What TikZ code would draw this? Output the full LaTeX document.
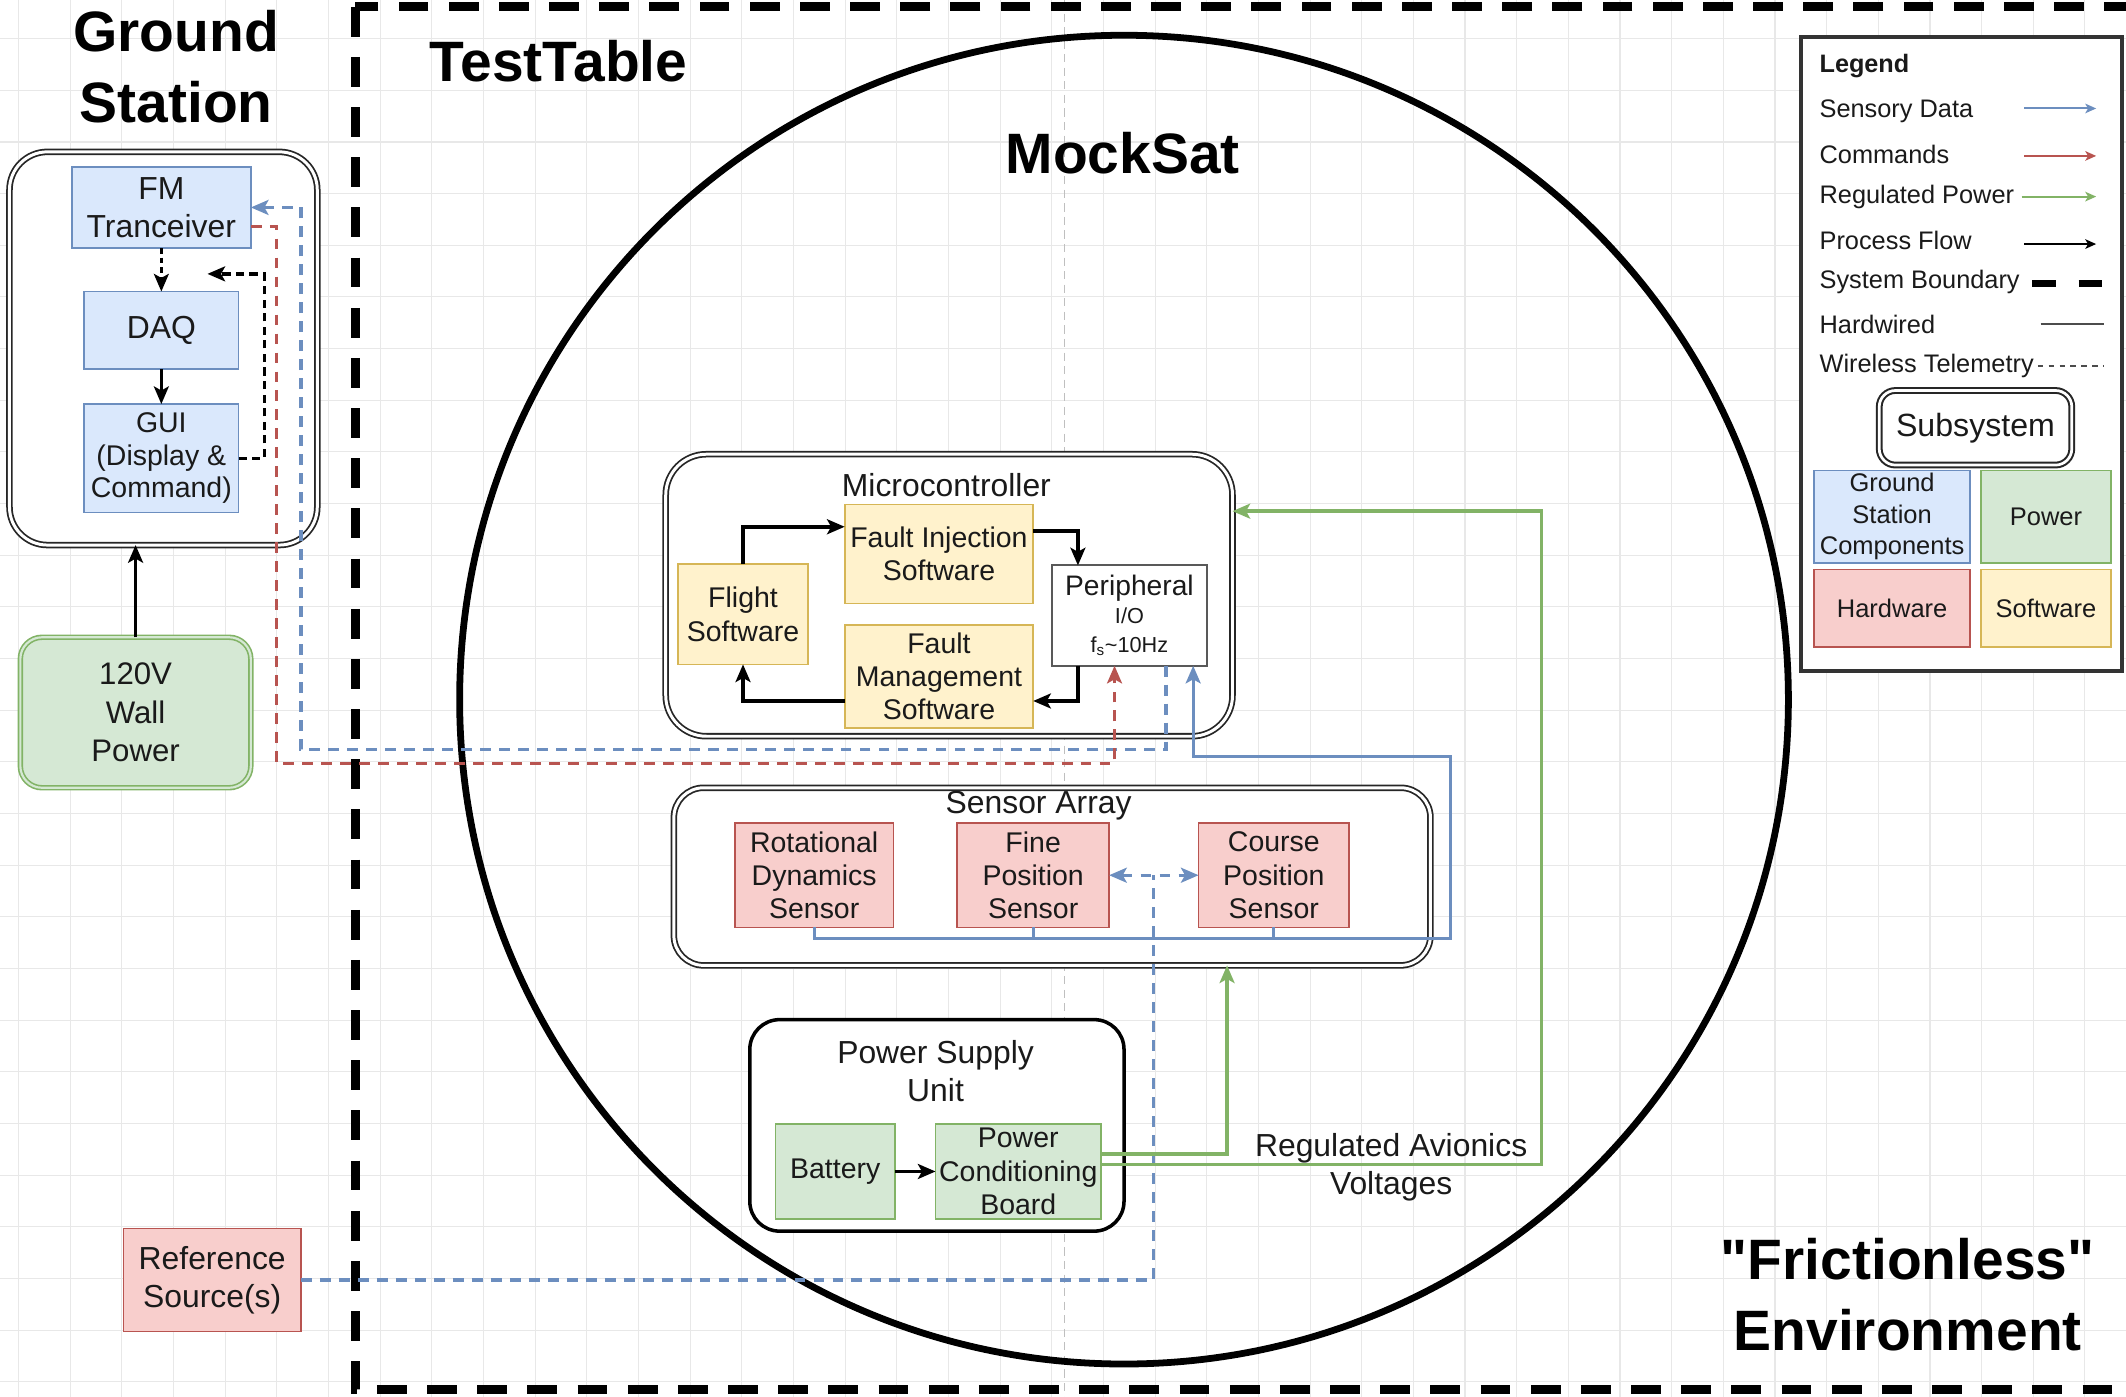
\documentclass[tikz,border=0pt]{standalone}
\usepackage{fontspec}
\setmainfont{Liberation Sans}[Ligatures=TeXOff]
\usetikzlibrary{arrows.meta,calc}
\definecolor{bfill}{HTML}{DAE8FC}
\definecolor{bline}{HTML}{6C8EBF}
\definecolor{gfill}{HTML}{D5E8D4}
\definecolor{gline}{HTML}{82B366}
\definecolor{rfill}{HTML}{F8CECC}
\definecolor{rline}{HTML}{B85450}
\definecolor{yfill}{HTML}{FFF2CC}
\definecolor{yline}{HTML}{D6B656}
\definecolor{gridc}{HTML}{E8E8E8}
\definecolor{txt}{HTML}{1A1A1A}
\newcommand{\fsz}[2]{\fontsize{#1}{#2}\selectfont}
\tikzset{
  every node/.style={text=txt, inner sep=0pt, outer sep=0pt},
  cell/.style={draw, line width=1.2, align=center, font=\fsz{21}{24.5}},
  bluebox/.style={cell, fill=bfill, draw=bline},
  greenbox/.style={cell, fill=gfill, draw=gline},
  redbox/.style={cell, fill=rfill, draw=rline},
  yelbox/.style={cell, fill=yfill, draw=yline},
  cont/.style={draw=black!85, line width=1.3, double=white, double distance=2.2, fill=white},
  title/.style={font=\bfseries\fsz{42}{52}, align=center, text=black},
  lbl/.style={font=\fsz{23.5}{28}, align=center},
  legt/.style={font=\fsz{18.7}{23}, anchor=west},
  arr/.style={-{Stealth[length=13,width=11,inset=3]}},
  sarr/.style={-{Stealth[length=8,width=7,inset=2]}},
  pf/.style={line width=2.6, draw=black, arr},
  bd/.style={draw=bline, line width=2.4, dash pattern=on 8 off 6},
  rd/.style={draw=rline, line width=2.4, dash pattern=on 8 off 6},
  bs/.style={draw=bline, line width=2.4},
  gl/.style={draw=gline, line width=2.6},
}
\begin{document}
\begin{tikzpicture}[x=1pt,y=-1pt]
\useasboundingbox (0,0) rectangle (1568,1030);
\fill[white] (0,0) rectangle (1568,1030);
% grid
\foreach \i in {0,...,41} \draw[gridc, line width=0.8] ({13.7+\i*38.1},0) -- ({13.7+\i*38.1},1030);
\foreach \i in {0,...,27} \draw[gridc, line width=0.8] (0,{28.5+\i*38.1}) -- (1568,{28.5+\i*38.1});
% guide line
\draw[black!25, line width=0.7, dash pattern=on 6 off 4] (785,0) -- (785,1030);
% system boundary
\draw[line width=6.5, dash pattern=on 22 off 15] (262,5) rectangle (1600,1025);
% MockSat circle
\node[circle, draw, line width=5, minimum size=980] (sat) at (829,516) {};

% titles
\node[title] (gstitle) at (130,49) {Ground\\Station};
\node[title] (tttitle) at (412,45) {TestTable};
\node[title] (mstitle) at (828,113) {MockSat};
\node[title] (envtitle) at (1407,955) {"Frictionless"\\Environment};

% Ground station
\node[cont, rounded corners=28, minimum width=227, minimum height=290] (gs) at (120.5,257) {};
\node[bluebox, font=\fsz{23.5}{28}, minimum width=132, minimum height=60] (fm) at (119,153) {FM\\Tranceiver};
\node[bluebox, font=\fsz{23.5}{28}, minimum width=114, minimum height=57] (daq) at (119,243.5) {DAQ};
\node[bluebox, font=\fsz{21}{24}, minimum width=114, minimum height=80] (gui) at (119,338) {GUI\\(Display \&\\Command)};
\node[greenbox, draw=gline, line width=1.2, double=gfill, double distance=1.6, rounded corners=16, font=\fsz{23}{28.5}, minimum width=170, minimum height=111] (wall) at (100,525.5) {120V\\Wall\\Power};
\node[redbox, font=\fsz{23.5}{28}, minimum width=131, minimum height=76] (ref) at (156.5,944) {Reference\\Source(s)};

% Microcontroller
\node[cont, rounded corners=30, minimum width=418, minimum height=208] (mc) at (700,439) {};
\node[lbl] (mclabel) at (698,358) {Microcontroller};
\node[yelbox, minimum width=96, minimum height=74] (flight) at (548,453) {Flight\\Software};
\node[yelbox, minimum width=139, minimum height=73] (fi) at (692.5,408.5) {Fault Injection\\Software};
\node[yelbox, minimum width=139, minimum height=76] (fmg) at (692.5,499) {Fault\\Management\\Software};
\node[cell, draw=black!65, fill=white, line width=1.5, minimum width=114, minimum height=74, font=\fsz{16}{21}] (periph) at (833,454) {{\fsz{20.8}{21}Peripheral}\\I/O\\f\textsubscript{s}\textasciitilde{}10Hz};

% Sensor array
\node[cont, rounded corners=22, minimum width=558, minimum height=131] (sa) at (776,646.5) {};
\node[lbl] (salabel) at (766,594) {Sensor Array};
\node[redbox, minimum width=117, minimum height=77] (rot) at (600.5,645.5) {Rotational\\Dynamics\\Sensor};
\node[redbox, minimum width=112, minimum height=77] (fine) at (762,645.5) {Fine\\Position\\Sensor};
\node[redbox, minimum width=111, minimum height=77] (course) at (939.5,645.5) {Course\\Position\\Sensor};

% Power supply unit
\node[draw=black, line width=2.6, fill=white, rounded corners=22, minimum width=276, minimum height=156] (psu) at (691,830) {};
\node[lbl] (psulabel) at (690,790) {Power Supply\\Unit};
\node[greenbox, minimum width=88, minimum height=70] (bat) at (616,864) {Battery};
\node[greenbox, minimum width=122, minimum height=70] (pcb) at (751,864) {Power\\Conditioning\\Board};
\node[lbl] (ravlabel) at (1026,861) {Regulated Avionics\\Voltages};

% --- connectors: ground station
\draw[pf, line width=2.2, dash pattern=on 4 off 3] (fm.south) -- (daq.north);
\draw[pf, line width=2.2] (daq.south) -- (gui.north);
\coordinate (gsret) at (153,202);
\draw[pf, line width=2.4, dash pattern=on 6 off 4] (gui.east) -| (195,202) -- (gsret);
\draw[pf] (wall.north) -- (wall.north |- gs.south);

% telemetry
\draw[bd, arr] ($(periph.south)+(27,0)$) |- (222,553) |- (fm.east);
\draw[rd, arr] ($(fm.east)+(0,14)$) -| (204,563) -| ($(periph.south)+(-11,0)$);

% microcontroller process flow
\draw[pf] (flight.north) |- ($(fi.west)+(0,-20)$);
\draw[pf] ($(fi.east)+(0,-17)$) -| ($(periph.north west)+(19,0)$);
\draw[pf] ($(periph.south west)+(19,0)$) |- ($(fmg.east)+(0,18)$);
\draw[pf] ($(fmg.west)+(0,18)$) -| (flight.south);

% sensors
\draw[bs, arr] (rot.south) |- (1070,692) -- (1070,558) -| ($(periph.south)+(47,0)$);
\draw[bs] (fine.south) -- (fine.south |- 0,692);
\draw[bs] (course.south) -- (course.south |- 0,692);
\draw[bd] (ref.east) -| (851,0 |- fine.east);
\draw[bd, {Stealth[length=13,width=11,inset=3]}-{Stealth[length=13,width=11,inset=3]}] (fine.east) -- (course.west);

% power
\draw[pf] (bat.east) -- (pcb.west);
\draw[gl, arr] ($(pcb.east)+(0,-13)$) -| (905,0 |- sa.south);
\draw[gl, arr] ($(pcb.east)+(0,-5)$) -| (1137,377) -- (mc.east |- 0,377);

% legend
\node[draw=black!80, line width=3, fill=white, minimum width=237, minimum height=468] (leg) at (1446.5,261) {};
\node[legt, font=\bfseries\fsz{18.6}{23}] (lt0) at (1342,49) {Legend};
\node[legt] (lt1) at (1342,82) {Sensory Data};
\node[legt] (lt2) at (1342,114) {Commands};
\node[legt] (lt3) at (1342,145) {Regulated Power};
\node[legt] (lt4) at (1342,177) {Process Flow};
\node[legt] (lt5) at (1342,208) {System Boundary};
\node[legt] (lt6) at (1342,239) {Hardwired};
\node[legt] (lt7) at (1342,270) {Wireless Telemetry};
\coordinate (la1) at (1493,80); \coordinate (lb1) at (1546,80);
\coordinate (la2) at (1493,115); \coordinate (lb2) at (1546,115);
\coordinate (la3) at (1491,145); \coordinate (lb3) at (1546,145);
\coordinate (la4) at (1493,180); \coordinate (lb4) at (1546,180);
\coordinate (la5) at (1499,209); \coordinate (lb5) at (1551,209);
\coordinate (la6) at (1505,239); \coordinate (lb6) at (1552,239);
\coordinate (la7) at (1503,270); \coordinate (lb7) at (1552,270);
\draw[bline, line width=1.5, sarr] (la1) -- (lb1);
\draw[rline, line width=1.5, sarr] (la2) -- (lb2);
\draw[gline, line width=1.5, sarr] (la3) -- (lb3);
\draw[black, line width=1.5, sarr] (la4) -- (lb4);
\draw[black, line width=5, dash pattern=on 17 off 17] (la5) -- (lb5);
\draw[black!70, line width=1.5] (la6) -- (lb6);
\draw[black!70, line width=1.3, dash pattern=on 4 off 4] (la7) -- (lb7);
\node[cont, draw=black!85, line width=1.5, double distance=2, rounded corners=12, minimum width=142, minimum height=55, font=\fsz{23.7}{28}] (lsub) at (1457,315.5) {Subsystem};
\node[bluebox, font=\fsz{18.8}{23}, minimum width=115, minimum height=68] (lgs) at (1395.5,381) {Ground\\Station\\Components};
\node[greenbox, font=\fsz{18.8}{23}, minimum width=96, minimum height=68] (lpw) at (1509,381) {Power};
\node[redbox, font=\fsz{18.8}{23}, minimum width=115, minimum height=57] (lhw) at (1395.5,448.5) {Hardware};
\node[yelbox, font=\fsz{18.8}{23}, minimum width=96, minimum height=57] (lsw) at (1509,448.5) {Software};
\end{tikzpicture}
\end{document}
